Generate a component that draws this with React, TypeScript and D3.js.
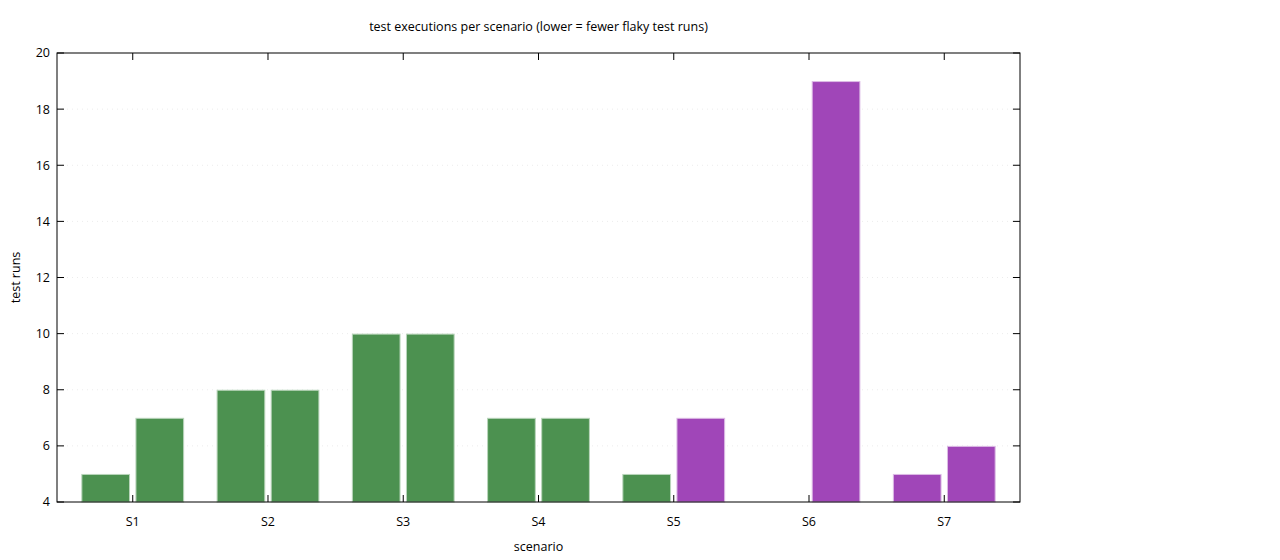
import React from "react";
import * as d3 from "d3";

const categories = ["S1", "S2", "S3", "S4", "S5", "S6", "S7"];
const seriesA: (number | null)[] = [5, 8, 10, 7, 5, null, 5];
const seriesB: (number | null)[] = [7, 8, 10, 7, 7, 19, 6];
const groupA = ["g", "g", "g", "g", "g", "p", "p"];
const groupB = ["g", "g", "g", "g", "p", "p", "p"];
const yTicks = [4, 6, 8, 10, 12, 14, 16, 18, 20];

const title = "test executions per scenario (lower = fewer flaky test runs)";
const xLabel = "scenario";
const yLabel = "test runs";

const fills: Record<string, string> = { g: "#4c9150", p: "#a046b8" };
const strokes: Record<string, string> = { g: "#b9d5bb", p: "#dcbbe5" };

export default function App() {
  const W = 1280, H = 560;
  const left = 57, right = 1020, top = 53, bottom = 502;
  const x = d3.scaleLinear().domain([-0.56, categories.length - 1 + 0.56]).range([left, right]);
  const y = d3.scaleLinear().domain([4, 20]).range([bottom, top]);
  const slot = 0.4, bw = 0.36;
  const font = "'Open Sans', 'Noto Sans', sans-serif";
  const fs = 12.5;

  const bars: { cx: number; v: number; k: string; key: string }[] = [];
  categories.forEach((c, i) => {
    const a = seriesA[i], b = seriesB[i];
    if (a != null) bars.push({ cx: i - slot / 2, v: a, k: groupA[i], key: c + "a" });
    if (b != null) bars.push({ cx: i + slot / 2, v: b, k: groupB[i], key: c + "b" });
  });

  return (
    <svg width={W} height={H} style={{ position: "absolute", left: 0, top: 0, background: "#fff" }} fontFamily={font}>
      <rect x={0} y={0} width={W} height={H} fill="#fff" />
      {yTicks.slice(1, -1).map((t) => (
        <line key={"g" + t} x1={left} x2={right} y1={y(t)} y2={y(t)} stroke="#ececec" strokeWidth={1} strokeDasharray="1,4" />
      ))}
      {bars.map((b) => {
        const x0 = x(b.cx - bw / 2), x1 = x(b.cx + bw / 2);
        return (
          <rect key={b.key} x={x0 + 0.5} y={y(b.v) + 0.5} width={x1 - x0 - 1} height={y(4) - y(b.v) - 0.5}
            fill={fills[b.k]} stroke={strokes[b.k]} strokeWidth={1} />
        );
      })}
      <rect x={left} y={top} width={right - left} height={bottom - top} fill="none" stroke="#000" strokeWidth={1} />
      {yTicks.map((t) => (
        <g key={"y" + t}>
          <line x1={left} x2={left + 7} y1={y(t)} y2={y(t)} stroke="#000" />
          <line x1={right - 7} x2={right} y1={y(t)} y2={y(t)} stroke="#000" />
          <text x={left - 7} y={y(t)} dy="0.35em" textAnchor="end" fontSize={fs} fill="#000">{t}</text>
        </g>
      ))}
      {categories.map((c, i) => (
        <g key={"x" + c}>
          <line x1={x(i)} x2={x(i)} y1={bottom} y2={bottom - 7} stroke="#000" />
          <line x1={x(i)} x2={x(i)} y1={top} y2={top + 7} stroke="#000" />
          <text x={x(i)} y={bottom + 20} dy="0.35em" textAnchor="middle" fontSize={fs} fill="#000">{c}</text>
        </g>
      ))}
      <text x={(left + right) / 2} y={27} dy="0.35em" textAnchor="middle" fontSize={fs} fill="#000">{title}</text>
      <text x={(left + right) / 2} y={547} dy="0.35em" textAnchor="middle" fontSize={fs} fill="#000">{xLabel}</text>
      <text transform={`translate(16,${(top + bottom) / 2}) rotate(-90)`} dy="0.35em" textAnchor="middle" fontSize={fs} fill="#000">{yLabel}</text>
    </svg>
  );
}
